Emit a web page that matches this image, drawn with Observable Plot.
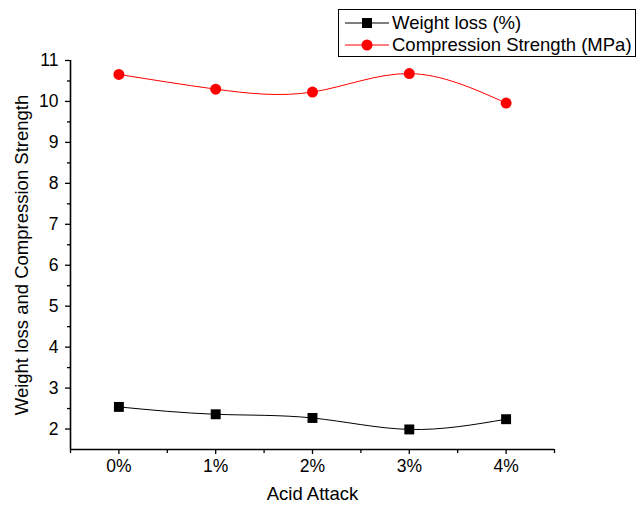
<!DOCTYPE html>
<html><head><meta charset="utf-8">
<script src="https://cdn.jsdelivr.net/npm/d3@7"></script>
<script src="https://cdn.jsdelivr.net/npm/@observablehq/plot@0.6"></script>
<style>
body{margin:0;background:#fff;font-family:"Liberation Sans",Arial,sans-serif;}
#wrap{position:relative;width:643px;height:506px;}
#legend{position:absolute;left:338px;top:9px;width:298px;height:48px;border:1px solid #000;box-sizing:border-box;font-size:18.5px;}
.row{position:absolute;left:0;height:23px;display:flex;align-items:center;}
.row svg{margin-left:6px;margin-right:3px;}
</style></head>
<body><div id="wrap"><div id="chart"></div>
<div id="legend">
<div class="row" style="top:1px"><svg width="44" height="14"><line x1="0" x2="44" y1="7" y2="7" stroke="#000" stroke-width="1"/><rect x="17" y="2" width="10" height="10" fill="#000"/></svg><span>Weight loss (%)</span></div>
<div class="row" style="top:23px"><svg width="44" height="14"><line x1="0" x2="44" y1="7" y2="7" stroke="#ff0000" stroke-width="1"/><circle cx="22" cy="7" r="5.5" fill="#ff0000"/></svg><span>Compression Strength (MPa)</span></div>
</div></div>
<script>
const categories = [0, 1, 2, 3, 4];
const tickLabels = ["0%", "1%", "2%", "3%", "4%"];
const weightLoss = [2.54, 2.36, 2.27, 1.99, 2.24];
const compression = [10.66, 10.30, 10.23, 10.68, 9.96];

const wl = categories.map((c, i) => ({x: c, y: weightLoss[i]}));
const cs = categories.map((c, i) => ({x: c, y: compression[i]}));

const chart = Plot.plot({
  width: 643, height: 506,
  marginLeft: 70, marginRight: 89, marginTop: 60, marginBottom: 57,
  style: {fontFamily: "'Liberation Sans', Arial, sans-serif", fontSize: "17.5px", color: "#000", background: "#fff"},
  x: {domain: [-0.5, 4.5]},
  y: {domain: [1.5, 11]},
  marks: [
    Plot.axisX({ticks: categories, tickFormat: (d) => tickLabels[categories.indexOf(d)], tickSize: 5, tickPadding: 5, fontSize: 17.5, label: null, strokeWidth: 1.3}),
    Plot.axisX({ticks: d3.range(-0.5, 5, 1), tickSize: 4, text: null, label: null, strokeWidth: 1.3}),
    Plot.axisY({ticks: d3.range(2, 12, 1), tickSize: 5, tickPadding: 7, fontSize: 17.5, label: null, strokeWidth: 1.3}),
    Plot.axisY({ticks: d3.range(2.5, 11, 1), tickSize: 3, text: null, label: null, strokeWidth: 1.3}),
    Plot.ruleX([-0.5], {stroke: "#000", strokeWidth: 1.6}),
    Plot.ruleY([1.5], {stroke: "#000", strokeWidth: 1.6}),
    Plot.line(wl, {x: "x", y: "y", curve: "natural", stroke: "#000", strokeWidth: 1}),
    Plot.dot(wl, {x: "x", y: "y", symbol: "square", r: 5.6, fill: "#000"}),
    Plot.line(cs, {x: "x", y: "y", curve: "natural", stroke: "#ff0000", strokeWidth: 1}),
    Plot.dot(cs, {x: "x", y: "y", symbol: "circle", r: 5.5, fill: "#ff0000"}),
    Plot.text(["Acid Attack"], {frameAnchor: "bottom", dy: 50, fontSize: 18.5, fill: "#000"}),
    Plot.text(["Weight loss and Compression Strength"], {frameAnchor: "left", dx: -48, rotate: -90, textAnchor: "middle", fontSize: 18.5, fill: "#000"})
  ]
});
document.getElementById("chart").appendChild(chart);
</script></body></html>
